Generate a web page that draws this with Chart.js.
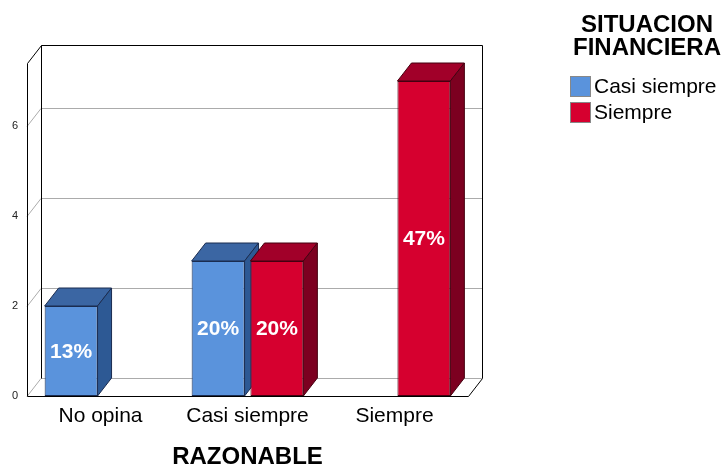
<!DOCTYPE html>
<html><head><meta charset="utf-8">
<script src="https://cdn.jsdelivr.net/npm/chart.js@4"></script>
<style>html,body{margin:0;padding:0;background:#fff}#wrap{width:726px;height:467px;position:relative}</style>
</head><body><div id="wrap"><canvas id="c" width="726" height="467"></canvas></div>
<script>
// ---- data ----
const categories = ['No opina', 'Casi siempre', 'Siempre'];
const seriesNames = ['Casi siempre', 'Siempre'];
const casiSiempre = [2, 3, null];
const siempre = [null, 3, 7];
const yTicks = [0, 2, 4, 6];
const xTitle = 'RAZONABLE';
const legendTitle = ['SITUACION', 'FINANCIERA'];

// ---- style ----
const FONT = '"Liberation Sans", Arial, Helvetica, sans-serif';
const DX = 14, DY = 18;
const styles = [
  { front: '#5A93DC', top: '#3B66A3', side: '#2D5994', edge: '#1B2C50' },
  { front: '#D6002F', top: '#A10029', side: '#7C0020', edge: '#450010' }
];
const total = [...casiSiempre, ...siempre].reduce((s, v) => s + (v || 0), 0);

function poly(ctx, pts, fill, stroke) {
  ctx.beginPath();
  ctx.moveTo(pts[0][0], pts[0][1]);
  for (let i = 1; i < pts.length; i++) ctx.lineTo(pts[i][0], pts[i][1]);
  ctx.closePath();
  ctx.fillStyle = fill; ctx.fill();
  ctx.strokeStyle = stroke; ctx.lineWidth = 1; ctx.stroke();
}

let manualDraw = false;
const threeD = {
  id: 'threeD',
  beforeDatasetsDraw(chart) {
    const { ctx, chartArea: a, scales: { y } } = chart;
    ctx.save();
    ctx.lineWidth = 1;
    ctx.strokeStyle = '#ababab';
    yTicks.forEach(v => {
      const py = Math.round(y.getPixelForValue(v)) + 0.5;
      ctx.beginPath();
      ctx.moveTo(a.left, py);
      ctx.lineTo(a.left + DX, py - DY);
      ctx.lineTo(a.right + DX, py - DY);
      ctx.stroke();
    });
    ctx.strokeStyle = '#000';
    const L = Math.round(a.left) + 0.5, R = Math.round(a.right) + 0.5;
    const T = Math.round(a.top) + 0.5, B = Math.round(a.bottom) + 0.5;
    ctx.beginPath();
    ctx.moveTo(L, B); ctx.lineTo(L, T); ctx.lineTo(L + DX, T - DY);
    ctx.lineTo(R + DX, T - DY); ctx.lineTo(R + DX, B - DY); ctx.lineTo(R, B); ctx.lineTo(L, B);
    ctx.moveTo(L + DX, T - DY); ctx.lineTo(L + DX, B - DY);
    ctx.stroke();
    ctx.restore();
  },
  beforeDatasetDraw() {
    // bars are drawn below in dataset order so each 3D box overlaps correctly
    return manualDraw;
  },
  afterDatasetsDraw(chart) {
    const { ctx } = chart;
    ctx.save();
    // draw bars (front faces via Chart.js, then top and side faces)
    chart.data.datasets.forEach((ds, di) => {
      const meta = chart.getDatasetMeta(di);
      manualDraw = true;
      meta.controller.draw();
      manualDraw = false;
      const st = styles[di];
      meta.data.forEach((el, i) => {
        if (ds.data[i] == null) return;
        const l = el.x - el.width / 2, r = el.x + el.width / 2, t = el.y, b = el.base;
        poly(ctx, [[l, t], [r, t], [r + DX, t - DY], [l + DX, t - DY]], st.top, st.edge);
        poly(ctx, [[r, t], [r + DX, t - DY], [r + DX, b - DY], [r, b]], st.side, st.edge);
      });
    });
    // value labels
    ctx.fillStyle = '#fff';
    ctx.font = 'bold 21px ' + FONT;
    ctx.textAlign = 'center';
    ctx.textBaseline = 'middle';
    chart.data.datasets.forEach((ds, di) => {
      const meta = chart.getDatasetMeta(di);
      meta.data.forEach((el, i) => {
        const v = ds.data[i];
        if (v == null) return;
        ctx.fillText(Math.round(v / total * 100) + '%', el.x, (el.y + el.base) / 2 + 1);
      });
    });
    // legend
    ctx.fillStyle = '#000';
    ctx.font = 'bold 24px ' + FONT;
    ctx.textAlign = 'center';
    ctx.fillText(legendTitle[0], 647, 25);
    ctx.fillText(legendTitle[1], 647, 48);
    ctx.font = '21px ' + FONT;
    ctx.textAlign = 'left';
    chart.data.datasets.forEach((ds, di) => {
      const y0 = 76 + di * 26;
      ctx.fillStyle = styles[di].front;
      ctx.fillRect(570, y0, 21, 21);
      ctx.strokeStyle = '#888';
      ctx.strokeRect(570.5, y0 + 0.5, 20, 20);
      ctx.fillStyle = '#000';
      ctx.fillText(ds.label, 594, y0 + 11);
    });
    ctx.restore();
  }
};

new Chart(document.getElementById('c'), {
  type: 'bar',
  data: {
    labels: categories,
    datasets: [
      { label: seriesNames[0], data: casiSiempre, backgroundColor: styles[0].front, borderColor: styles[0].edge, borderWidth: 1, borderSkipped: false },
      { label: seriesNames[1], data: siempre, backgroundColor: styles[1].front, borderColor: styles[1].edge, borderWidth: 1, borderSkipped: false }
    ]
  },
  options: {
    responsive: false,
    animation: false,
    devicePixelRatio: 1,
    layout: { padding: { left: 0, right: 258, top: 63, bottom: 0 } },
    plugins: { legend: { display: false }, tooltip: { enabled: false } },
    scales: {
      x: {
        grid: { display: false, drawTicks: false },
        border: { display: false },
        categoryPercentage: 0.8,
        barPercentage: 0.9,
        ticks: { color: '#000', font: { family: FONT, size: 21 }, padding: 8 },
        title: { display: true, text: xTitle, color: '#000', font: { family: FONT, size: 24, weight: 'bold' }, padding: { top: 0, bottom: -5 } },
        afterFit(s) { s.height = 71; }
      },
      y: {
        min: 0, max: 7.4,
        grid: { display: false, drawTicks: false },
        border: { display: false },
        ticks: { stepSize: 2, color: '#222', font: { family: FONT, size: 11 }, padding: 9 },
        afterBuildTicks(s) { s.ticks = s.ticks.filter(t => yTicks.includes(t.value)); },
        afterFit(s) { s.width = 27; }
      }
    }
  },
  plugins: [threeD]
});
</script></body></html>
